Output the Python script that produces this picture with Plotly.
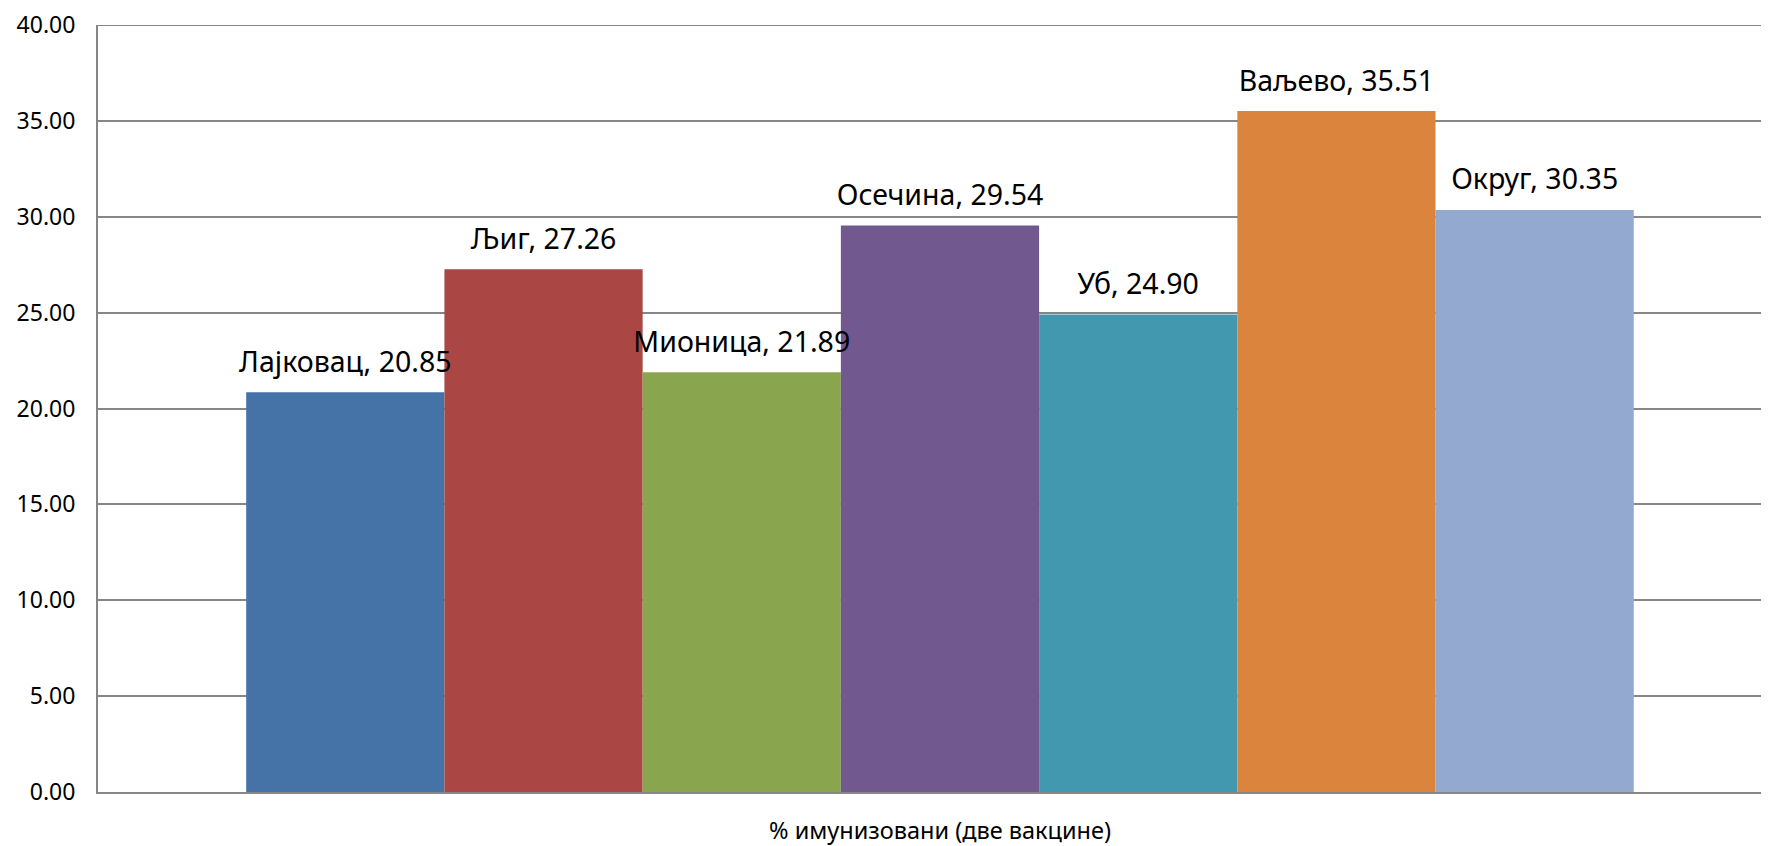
import plotly.graph_objects as go

category = ["% имунизовани (две вакцине)"]
names = ["Лајковац", "Љиг", "Мионица", "Осечина", "Уб", "Ваљево", "Округ"]
values = [20.85, 27.26, 21.89, 29.54, 24.90, 35.51, 30.35]
colors = ["#4572A7", "#AA4643", "#89A54E", "#71588F", "#4198AF", "#DB843D", "#93A9CF"]
y_ticks = [0, 5, 10, 15, 20, 25, 30, 35, 40]

FONT = "Noto Sans"
GRID = "#868686"

fig = go.Figure()
# coloured bars
for n, v, c in zip(names, values, colors):
    fig.add_trace(go.Bar(
        x=category, y=[v], name=n, marker=dict(color=c, line=dict(width=0)),
        showlegend=False, hoverinfo="skip", xaxis="x", yaxis="y",
    ))
# data labels, drawn on an overlaid axis so they sit on top of all bars
for n, v in zip(names, values):
    fig.add_trace(go.Bar(
        x=category, y=[v], name=n, marker=dict(color="rgba(0,0,0,0)", line=dict(width=0)),
        showlegend=False, xaxis="x", yaxis="y2",
        text=[f"{n}, {v:.2f}"], textposition="outside", constraintext="none",
        cliponaxis=False, textfont=dict(family=FONT, size=28.5, color="#000000"),
    ))

fig.update_layout(
    width=1761, height=838,
    margin=dict(l=90, r=0, t=15, b=48),
    paper_bgcolor="white", plot_bgcolor="white",
    barmode="group", bargap=0.176, bargroupgap=0,
    font=dict(family=FONT, color="#000000"),
    xaxis=dict(
        type="category", range=[-0.5, 0.4923],
        showline=True, linecolor=GRID, linewidth=2,
        showgrid=False, ticks="", ticklabelstandoff=17,
        tickfont=dict(family=FONT, size=23.5, color="#000000"),
    ),
    yaxis=dict(
        range=[0, 40], tickvals=y_ticks, tickformat=".2f",
        showgrid=True, gridcolor=GRID, gridwidth=2,
        showline=True, linecolor=GRID, linewidth=2,
        zeroline=False, ticks="", ticklabelstandoff=16,
        ticklabeloverflow="allow",
        tickfont=dict(family=FONT, size=23, color="#000000"),
    ),
    yaxis2=dict(
        overlaying="y", range=[-0.5, 39.5], visible=False,
    ),
    shapes=[dict(type="line", xref="paper", x0=0, x1=1, yref="y",
                 y0=y_ticks[-1], y1=y_ticks[-1], line=dict(color=GRID, width=2),
                 layer="below")],
)
fig.write_html("out.html")
